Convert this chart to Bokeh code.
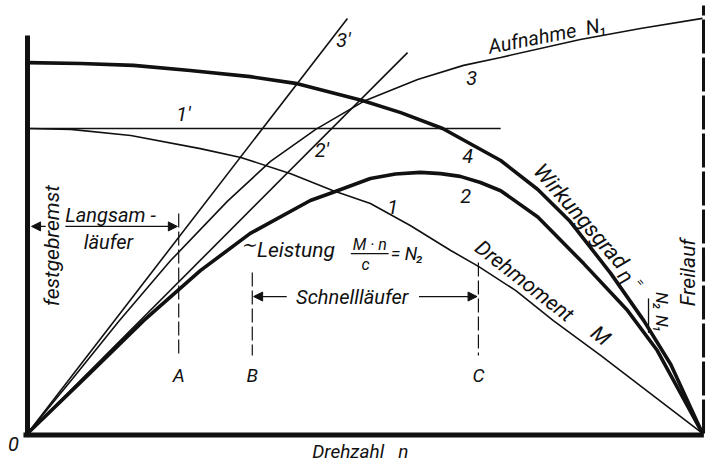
from bokeh.plotting import figure
from bokeh.models import Range1d, Label, Arrow, NormalHead
from bokeh.embed import file_html
from bokeh.resources import INLINE

# Turbine characteristics over speed n (0 = stalled, 100 = runaway speed).
# All quantities in % of the stall torque M0.

# Drehmoment M (curve 1)
n_M = [0, 6.4, 15.3, 25.6, 31.6, 39.0, 45.2, 50.8, 56.7, 62.7, 66.8, 72.3, 77.9, 84.9, 92.3, 100]
M = [100, 99.7, 97.7, 93.4, 90.5, 85.2, 79.7, 75.4, 68.2, 60.0, 54.8, 46.9, 37.0, 25.6, 13.1, 0]

# Leistung N2 = M*n/c (curve 2)
n_N2 = [0, 8.6, 17.2, 25.6, 33.0, 41.9, 45.2, 50.8, 54.5, 58.2, 61.2, 64.1, 67.1, 70.1, 75.6,
        82.4, 88.9, 93.3, 100]
N2 = [0, 18.4, 37.0, 53.4, 65.6, 76.4, 79.0, 83.6, 85.1, 85.6, 85.2, 84.3, 82.3, 79.6, 71.0,
      55.7, 40.3, 27.2, 0]

# Aufnahme N1 (curve 3)
n_N1 = [0, 6.7, 13.5, 21.2, 29.6, 36.0, 42.7, 49.8, 57.8, 64.6, 70.1, 81.9, 90.8, 100]
N1 = [0, 18.0, 36.7, 56.7, 76.1, 89.2, 99.7, 108.9, 116.1, 120.7, 123.3, 129.2, 132.8, 136.1]

# Wirkungsgrad eta = N2/N1 (curve 4)
n_eta = [0, 7.9, 15.7, 24.1, 33.0, 39.7, 49.6, 55.3, 61.5, 70.1, 75.6, 80.4, 86.4, 91.3, 95.3, 100]
eta = [121.6, 121.3, 120.7, 119.0, 117.0, 114.8, 109.2, 105.2, 100.0, 89.5, 80.0, 69.5, 52.5, 37.0, 22.6, 0]

# Tangents at n = 0: 1' (torque), 2' (power), 3' (input)
tan1_n, tan1 = [0, 70.1], [100, 100]
tan2_n, tan2 = [0, 56.3], [0, 124.9]
tan3_n, tan3 = [0, 47.4], [0, 136.1]

# Operating points A, B, C
op_names = ["A", "B", "C"]
op_n = [22.4, 33.3, 66.8]
op_top = [72.1, 52.8, 56.1]
op_bottom = 25.6

FONT = "Roboto"
INK = "#111111"
SP = "\u00a0"  # non-breaking space keeps wide gaps in the SVG text

p = figure(width=706, height=463, x_range=Range1d(-4.0, 100.59), y_range=Range1d(-9.84, 141.97),
           output_backend="svg", toolbar_location=None, min_border=0,
           x_axis_type=None, y_axis_type=None)
p.grid.visible = False
p.outline_line_color = None
p.background_fill_color = "white"
p.border_fill_color = "white"

# frame: stall axis, speed axis, runaway line
p.line([0, 0], [-0.8, 130.5], line_width=5, color=INK)
p.line([-0.6, 100.2], [-0.5, -0.5], line_width=5, color=INK)
p.line([100.15, 100.15], [0, 140.3], line_width=3, color=INK, line_dash="34 4")

# curves
p.line(n_M, M, line_width=1.6, color=INK)
p.line(n_N1, N1, line_width=1.6, color=INK)
p.line(n_N2, N2, line_width=3.6, color=INK)
p.line(n_eta, eta, line_width=3.6, color=INK)
p.line(tan1_n, tan1, line_width=1.6, color=INK)
p.line(tan2_n, tan2, line_width=1.6, color=INK)
p.line(tan3_n, tan3, line_width=1.6, color=INK)

# operating points
for name, x, top in zip(op_names, op_n, op_top):
    p.line([x, x], [top, op_bottom], line_width=1.2, color=INK, line_dash="14 4")
    p.add_layout(Label(x=x, y=19.0, text=name, text_font=FONT, text_font_style="italic",
                       text_font_size="19px", text_align="center", text_baseline="middle",
                       text_color=INK))

# range arrows (broken where a text crosses them)
def arrow(x0, x1, y):
    p.add_layout(Arrow(x_start=x0, y_start=y, x_end=x1, y_end=y, line_width=1.3, line_color=INK,
                       end=NormalHead(size=9, fill_color=INK, line_color=INK, line_width=1)))

arrow(2.7, 0.6, 67.9)
arrow(5.6, 22.2, 67.9)
arrow(38.4, 33.5, 44.9)
arrow(58.0, 66.6, 44.9)

def label(x, y, text, size="20px", angle=0, align="center", baseline="middle"):
    p.add_layout(Label(x=x, y=y, text=text, text_font=FONT, text_font_style="italic",
                       text_font_size=size, text_align=align, text_baseline=baseline,
                       angle=angle, angle_units="deg", text_color=INK))

label(3.7, 61.6, "festgebremst", size="21px", angle=90)
label(97.9, 52.8, "Freilauf", size="21px", angle=90)
label(12.3, 71.8, "Langsam" + SP + "-")
label(12.0, 62.8, "läufer")
label(48.1, 44.9, "Schnellläufer")
label(49.3, -5.9, "Drehzahl" + SP * 3 + "n", size="19px")
label(-2.1, -3.6, "0")

label(32.7, 62.0, "∼", size="18px")
label(34.0, 60.0, "Leistung", size="21px", align="left")
label(50.7, 62.0, "M · n", size="16px")
p.line([47.9, 53.5], [59.0, 59.0], line_width=1.2, color=INK)
label(50.1, 55.5, "c", size="16px")
label(53.8, 59.0, "= N₂", size="18px", align="left")

label(23.1, 104.9, "1'")
label(43.6, 92.8, "2'")
label(46.8, 128.9, "3'")
label(65.8, 116.7, "3")
label(65.2, 91.1, "4")
label(64.9, 78.0, "2")
label(54.1, 74.4, "1")

label(77.0, 130.5, "Aufnahme" + SP * 2 + "N₁", angle=11)
label(73.6, 50.0, "Drehmoment", size="21px", angle=-38)
label(84.9, 32.1, "M", size="21px", angle=-38)
label(82.0, 71.2, "Wirkungsgrad", size="22px", angle=-49)
label(88.6, 51.6, "η", size="21px", angle=-50)
label(90.8, 49.6, "=", size="12px", angle=-50)
# eta = N2 / N1, written down along the steep end of the curve
label(94.0, 43.5, "N₂", size="17px", angle=-90)
label(94.0, 35.9, "N₁", size="17px", angle=-90)
p.line([92.0, 92.0], [44.3, 33.0], line_width=1.3, color=INK)

open("out.html", "w").write(file_html(p, INLINE))
